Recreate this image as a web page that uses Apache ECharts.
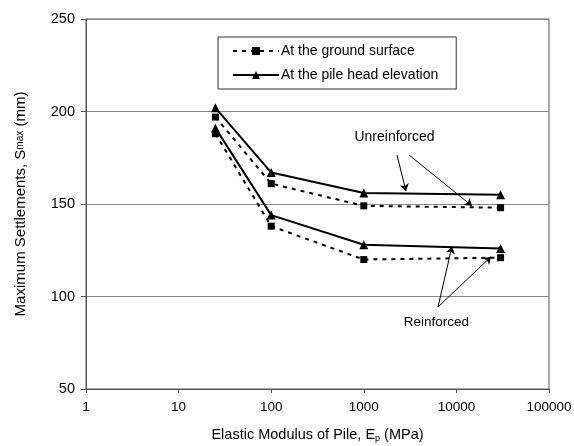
<!DOCTYPE html>
<html><head><meta charset="utf-8">
<script src="https://cdn.jsdelivr.net/npm/echarts@6/dist/echarts.min.js"></script>
<style>html,body{margin:0;padding:0;background:#fff}#c{width:574px;height:446px}</style>
</head><body><div id="c"></div>
<script>
const xValues = [25, 100, 1000, 30000];
const unreinforcedGround = [197, 161, 149, 148];
const unreinforcedPileHead = [202, 167, 156, 155];
const reinforcedGround = [188, 138, 120, 121];
const reinforcedPileHead = [191, 144, 128, 126];
const legendNames = ['At the ground surface', 'At the pile head elevation'];
const annotationTexts = ['Unreinforced', 'Reinforced'];
const annotationPos = [[2173, 185.7], [6170, 85.7]];
const arrows = [
  [[2281, 176.5], [2857, 157]],
  [[3076, 176.5], [14730, 149]],
  [[6324, 94.3], [8960, 127]],
  [[6324, 94.3], [23650, 121.5]]
];

const font = 'Liberation Sans, Arial, sans-serif';
const pair = (ys) => xValues.map((x, i) => [x, ys[i]]);
const dashedStyle = { color: '#000', width: 2, type: [4, 5] };
const solidStyle = { color: '#000', width: 2, type: 'solid' };
function mk(name, ys, dashed) {
  return {
    type: 'line', name, data: pair(ys),
    symbol: dashed ? 'rect' : 'triangle',
    symbolSize: dashed ? 7 : 9,
    itemStyle: { color: '#000' },
    lineStyle: dashed ? dashedStyle : solidStyle,
    silent: true, z: 5
  };
}
const chart = echarts.init(document.getElementById('c'));
chart.setOption({
  animation: false,
  backgroundColor: '#fff',
  grid: { left: 86, right: 25, top: 19, bottom: 57, show: true, borderColor: '#555', borderWidth: 1, backgroundColor: 'transparent', containLabel: false, outerBoundsMode: 'none' },
  legend: {
    data: legendNames,
    orient: 'vertical', left: 218, top: 37,
    padding: [7, 18, 7, 14], itemGap: 10, itemWidth: 46, itemHeight: 10,
    borderColor: '#333', borderWidth: 1,
    textStyle: { fontFamily: font, fontSize: 14, color: '#000', padding: [0, 0, 0, -3] }
  },
  xAxis: {
    type: 'log', logBase: 10, min: 1, max: 100000,
    name: '{a|Elastic Modulus of Pile, E}{s|p}{a| (MPa)}',
    nameLocation: 'middle', nameGap: 38,
    nameTextStyle: { rich: { a: { fontFamily: font, fontSize: 14.5, color: '#000' }, s: { fontFamily: font, fontSize: 9, color: '#000', verticalAlign: 'bottom', padding: [7, 0, 0, 0] } } },
    axisLine: { lineStyle: { color: '#555' } },
    axisTick: { show: true, inside: false, length: 4, lineStyle: { color: '#555' } },
    minorTick: { show: false },
    splitLine: { show: false },
    axisLabel: { fontFamily: font, fontSize: 13.5, color: '#000', margin: 11, showMaxLabel: true, showMinLabel: true, formatter: (v) => String(Math.round(v)) }
  },
  yAxis: {
    type: 'value', min: 50, max: 250, interval: 50,
    name: '{a|Maximum Settlements, S}{s|max}{a| (mm)}',
    nameLocation: 'middle', nameGap: 58, nameRotate: 90,
    nameTextStyle: { rich: { a: { fontFamily: font, fontSize: 15, color: '#000' }, s: { fontFamily: font, fontSize: 10, color: '#000' } } },
    axisLine: { show: true, lineStyle: { color: '#555' } },
    axisTick: { show: true, inside: false, length: 5, lineStyle: { color: '#555' } },
    splitLine: { show: true, lineStyle: { color: '#888', width: 1 } },
    axisLabel: { fontFamily: font, fontSize: 14.5, color: '#000', margin: 11 }
  },
  series: [
    mk(legendNames[0], unreinforcedGround, true),
    mk(legendNames[1], unreinforcedPileHead, false),
    mk(legendNames[0], reinforcedGround, true),
    mk(legendNames[1], reinforcedPileHead, false),
    {
      type: 'lines', coordinateSystem: 'cartesian2d', silent: true, z: 6,
      symbol: ['none', 'arrow'], symbolSize: 7,
      lineStyle: { color: '#000', width: 1, opacity: 1 },
      data: arrows.map(a => ({ coords: a }))
    },
    {
      type: 'scatter', symbolSize: 1, silent: true, z: 7,
      itemStyle: { color: 'rgba(0,0,0,0)' },
      data: annotationPos.map((p, i) => ({ value: p, label: { show: true, formatter: annotationTexts[i], position: [0, 0], align: 'center', verticalAlign: 'middle', fontFamily: font, fontSize: i === 0 ? 14 : 13.5, color: '#000', textBorderWidth: 0, opacity: 1 } }))
    }
  ]
});
</script></body></html>
